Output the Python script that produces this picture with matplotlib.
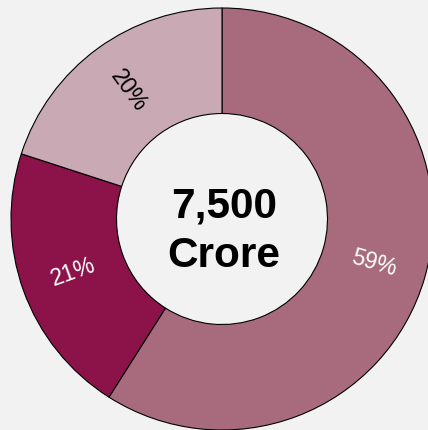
import matplotlib
matplotlib.use("Agg")
import matplotlib.pyplot as plt
import numpy as np

labels = ["Segment A", "Segment B", "Segment C"]
values = [59, 21, 20]
colors = ["#a86b7e", "#8b134a", "#c9aab4"]
label_colors = ["white", "white", "black"]
center_text = "7,500\nCrore"

plt.rcParams['font.family'] = ['Liberation Sans', 'DejaVu Sans']

W, H = 428, 430
fig = plt.figure(figsize=(W / 100, H / 100), dpi=100, facecolor="#f2f2f2")
ax = fig.add_axes([0, 0, 1, 1])
ax.set_facecolor("#f2f2f2")

cx, cy = 222, H - 219
R = 211
ring = 105.5

wedges, texts, autotexts = ax.pie(
    values, colors=colors, startangle=90, counterclock=False,
    radius=R, center=(cx, cy),
    wedgeprops=dict(width=ring, edgecolor="black", linewidth=0.8),
    autopct=lambda p: f"{p:.0f}%", pctdistance=(R - ring / 2) / R,
    textprops=dict(fontsize=16.5), frame=True)
ax.set_xlim(0, W)
ax.set_ylim(0, H)
ax.axis("off")

for w, t, c in zip(wedges, autotexts, label_colors):
    mid = (w.theta1 + w.theta2) / 2
    rot = mid
    if np.cos(np.deg2rad(mid)) < 0:
        rot = mid + 180
    rot = (rot + 180) % 360 - 180
    t.set_rotation(rot)
    t.set_rotation_mode("anchor")
    t.set_ha("center")
    t.set_va("center")
    t.set_color(c)

ax.text(cx + 2, H - 231, center_text, ha="center", va="center",
        fontsize=30.5, fontweight="bold", color="black", linespacing=1.3)

fig.savefig("out.png", dpi=100, facecolor=fig.get_facecolor())
